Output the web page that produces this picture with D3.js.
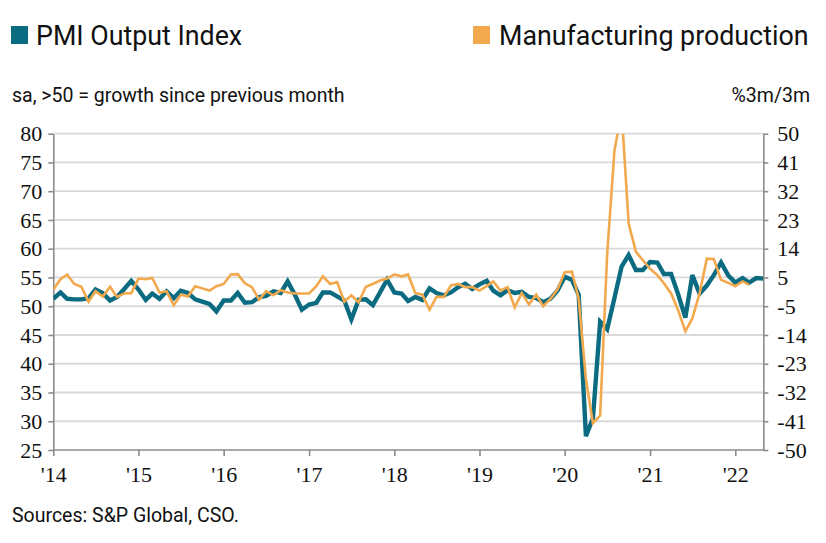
<!DOCTYPE html>
<html>
<head>
<meta charset="utf-8">
<script src="https://cdn.jsdelivr.net/npm/d3@7"></script>
<style>
  html, body { margin: 0; padding: 0; background: #fff; }
  svg { display: block; }
</style>
</head>
<body>
<svg id="chart" width="826" height="543"></svg>
<script>
// ---------------- DATA ----------------
const startMonth = "2014-01";          // first monthly observation
const endMonth = "2022-05";            // right end of x axis
const yearTicks = [2014, 2015, 2016, 2017, 2018, 2019, 2020, 2021, 2022];
const yearTickLabels = ["'14", "'15", "'16", "'17", "'18", "'19", "'20", "'21", "'22"];
const leftTicks = [25, 30, 35, 40, 45, 50, 55, 60, 65, 70, 75, 80];
const rightTickLabels = ["-50", "-41", "-32", "-23", "-14", "-5", "5", "14", "23", "32", "41", "50"];

// PMI Output Index (sa, >50 = growth), monthly Jan 2014 – May 2022 (left axis)
const pmiOutput = [
  51.3, 52.4, 51.3, 51.2, 51.2, 51.4, 52.9, 52.3, 51.0, 51.6, 53.0, 54.4,
  52.9, 51.1, 52.2, 51.3, 52.6, 51.4, 52.7, 52.3, 51.2, 50.8, 50.4, 49.1,
  51.0, 51.0, 52.3, 50.6, 50.7, 51.6, 51.8, 52.6, 52.3, 54.3, 52.0, 49.4,
  50.3, 50.6, 52.4, 52.4, 51.7, 51.0, 47.7, 51.1, 51.2, 50.2, 52.4, 54.6,
  52.4, 52.2, 50.9, 51.6, 51.1, 53.1, 52.3, 51.9, 52.4, 53.3, 53.9, 53.0,
  53.8, 54.4, 52.7, 51.9, 52.8, 52.3, 52.5, 51.6, 51.4, 50.7, 51.3, 52.7,
  55.1, 54.6, 52.0, 27.4, 30.5, 47.3, 46.0, 51.4, 56.9, 58.9, 56.3, 56.3,
  57.7, 57.6, 55.6, 55.6, 52.1, 48.0, 55.4, 52.2, 53.6, 55.4, 57.6, 55.4,
  54.1, 54.9, 54.1, 54.9, 54.8
];

// Manufacturing production, %3m/3m, monthly Jan 2014 – Mar 2022 (right axis)
const mfgProduction = [
  0.7, 4.0, 5.5, 2.5, 1.6, -3.1, 0.2, -1.5, 1.6, -1.6, -0.5, -0.4,
  4.2, 4.0, 4.4, -0.2, 0.2, -4.2, -0.9, -1.5, 1.8, 1.1, 0.4, 1.8,
  2.5, 5.5, 5.6, 2.7, 1.5, -2.5, 0.2, -1.1, 0.5, -0.2, -0.5, -0.5,
  -0.5, 1.8, 4.9, 2.5, 3.1, -3.1, -1.1, -3.3, 1.6, 2.5, 3.6, 4.2,
  5.5, 4.9, 5.5, -0.4, -0.9, -5.6, -1.6, -1.6, 2.0, 2.5, 1.5, 1.5,
  0.4, 1.8, 3.3, 0.4, 1.5, -4.9, -0.4, -4.0, -0.9, -4.5, -2.2, 0.7,
  6.2, 6.4, -2.2, -27.6, -41.5, -39.1, 11.8, 44.5, 57.1, 21.6, 12.7, 10.0,
  7.3, 5.3, 2.7, -0.5, -5.8, -12.5, -8.4, -0.5, 10.5, 10.4, 3.8, 2.9,
  1.8, 3.3, 2.2
];

const seriesNames = ["PMI Output Index", "Manufacturing production"];
const seriesColors = ["#0b6b80", "#f2a84c"];

// ---------------- LAYOUT ----------------
const svg = d3.select("#chart");
const plot = { left: 53.3, right: 763.3, top: 133.7, bottom: 450 };
const fontMain = "Roboto, 'Open Sans', sans-serif";
const axisColor = "#8c8c8c";
const gridColor = "#d9d9d9";

// detect a narrow face; otherwise condense Liberation Sans horizontally
const probe = svg.append("text").attr("font-size", 100).attr("font-family", "'Liberation Sans Narrow'").text("0000");
const wNarrow = probe.node().getComputedTextLength();
probe.attr("font-family", "'Liberation Sans'");
const wRegular = probe.node().getComputedTextLength();
probe.remove();
const hasNarrow = wNarrow < wRegular * 0.9;
const tickFont = hasNarrow ? "'Liberation Sans Narrow'" : "'Liberation Sans', Arial, sans-serif";
const squeeze = hasNarrow ? 1 : 0.82;
const tickSize = 22;

const parseMonth = d3.timeParse("%Y-%m");
const t0 = parseMonth(startMonth);
const monthDate = i => d3.timeMonth.offset(t0, i);

const x = d3.scaleTime()
  .domain([t0, parseMonth(endMonth)])
  .range([plot.left, plot.right]);
const yL = d3.scaleLinear().domain([25, 80]).range([plot.bottom, plot.top]);
const yR = d3.scaleLinear().domain([-50, 50]).range([plot.bottom, plot.top]);
const rightTicks = d3.range(rightTickLabels.length).map(k => -50 + k * 100 / (rightTickLabels.length - 1));

// clip
svg.append("defs").append("clipPath").attr("id", "plotclip")
  .append("rect")
  .attr("x", plot.left).attr("y", plot.top)
  .attr("width", plot.right - plot.left).attr("height", plot.bottom - plot.top);

// gridlines
svg.append("g").selectAll("line")
  .data(leftTicks.filter(d => d > 25))
  .join("line")
  .attr("x1", plot.left).attr("x2", plot.right)
  .attr("y1", d => yL(d)).attr("y2", d => yL(d))
  .attr("stroke", gridColor).attr("stroke-width", 1.8);

// axes
function styleAxis(g) {
  g.select(".domain").attr("stroke", axisColor).attr("stroke-width", 1.6);
  g.selectAll(".tick line").attr("stroke", axisColor).attr("stroke-width", 1.6);
  g.selectAll(".tick text").attr("fill", "#111").attr("font-family", tickFont).attr("font-size", tickSize)
    .each(function () {
      const t = d3.select(this);
      const x0 = +t.attr("x") || 0;
      t.attr("x", x0 / squeeze).attr("transform", `scale(${squeeze},1)`);
    });
}

const axL = svg.append("g").attr("transform", `translate(${plot.left},0)`)
  .call(d3.axisLeft(yL).tickValues(leftTicks).tickSize(5).tickSizeOuter(0).tickPadding(6).tickFormat(d3.format("d")));
styleAxis(axL);

const axR = svg.append("g").attr("transform", `translate(${plot.right},0)`)
  .call(d3.axisRight(yR).tickValues(rightTicks).tickSize(5).tickSizeOuter(0).tickPadding(9)
    .tickFormat((d, i) => rightTickLabels[i]));
styleAxis(axR);

const axB = svg.append("g").attr("transform", `translate(0,${plot.bottom})`)
  .call(d3.axisBottom(x).tickValues(yearTicks.map(y => new Date(y, 0, 1))).tickSize(6).tickSizeOuter(0).tickPadding(9)
    .tickFormat((d, i) => yearTickLabels[i]));
styleAxis(axB);
axB.select(".domain").attr("d", `M${plot.left},0H${plot.right}`);
axB.selectAll(".tick text").attr("dy", "0.75em");

// lines
const linesG = svg.append("g").attr("clip-path", "url(#plotclip)");
const pmiLine = d3.line().x((d, i) => x(monthDate(i))).y(d => yL(d));
const mfgLine = d3.line().x((d, i) => x(monthDate(i))).y(d => yR(d));

linesG.append("path").datum(pmiOutput)
  .attr("d", pmiLine).attr("fill", "none")
  .attr("stroke", seriesColors[0]).attr("stroke-width", 4.4)
  .attr("stroke-linejoin", "miter").attr("stroke-miterlimit", 3);

linesG.append("path").datum(mfgProduction)
  .attr("d", mfgLine).attr("fill", "none")
  .attr("stroke", seriesColors[1]).attr("stroke-width", 2.6)
  .attr("stroke-linejoin", "miter").attr("stroke-miterlimit", 3);

// legend
const legendPos = [{ x: 11, tx: 36 }, { x: 473, tx: 499 }];
const leg = svg.append("g");
seriesNames.forEach((name, i) => {
  leg.append("rect").attr("x", legendPos[i].x).attr("y", 26).attr("width", 17).attr("height", 18)
    .attr("fill", seriesColors[i]);
  leg.append("text").attr("x", legendPos[i].tx).attr("y", 45)
    .attr("font-family", fontMain).attr("font-size", 26.8).attr("fill", "#111")
    .text(name);
});

// subtitles
svg.append("text").attr("x", 12).attr("y", 102)
  .attr("font-family", fontMain).attr("font-size", 19.5).attr("fill", "#111")
  .text("sa, >50 = growth since previous month");
svg.append("text").attr("x", 810).attr("y", 102).attr("text-anchor", "end")
  .attr("font-family", fontMain).attr("font-size", 19.5).attr("fill", "#111")
  .text("%3m/3m");

// source
svg.append("text").attr("x", 12).attr("y", 522)
  .attr("font-family", fontMain).attr("font-size", 19.5).attr("fill", "#111")
  .text("Sources: S&P Global, CSO.");
</script>
</body>
</html>
